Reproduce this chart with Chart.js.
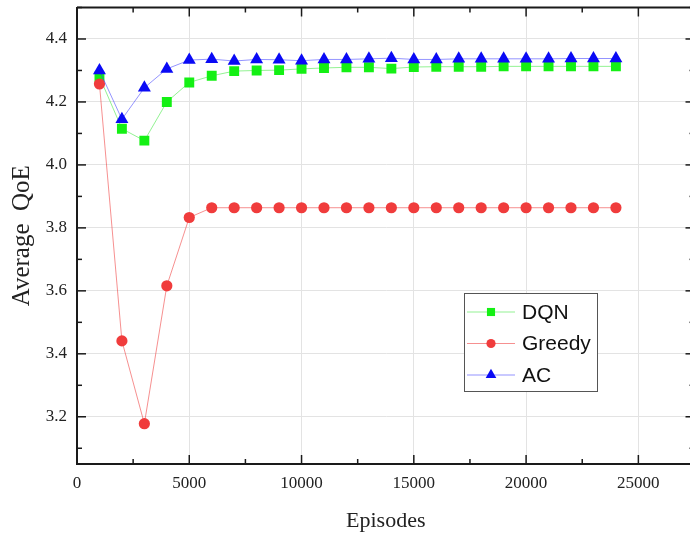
<!DOCTYPE html>
<html>
<head>
<meta charset="utf-8">
<script src="https://cdn.jsdelivr.net/npm/chart.js@4/dist/chart.umd.min.js"></script>
<style>
  html, body { margin: 0; padding: 0; background: #fff; overflow: hidden; }
  #wrap { width: 702px; height: 538px; }
</style>
</head>
<body>
<div id="wrap"><canvas id="qoe-chart" width="702" height="538"></canvas></div>
<script>
var episodes = [1000, 2000, 3000, 4000, 5000, 6000, 7000, 8000, 9000, 10000, 11000, 12000,
                13000, 14000, 15000, 16000, 17000, 18000, 19000, 20000, 21000, 22000, 23000, 24000]
var dqnQoE = [4.280, 4.115, 4.077, 4.200, 4.262, 4.283, 4.298, 4.300, 4.301, 4.305, 4.308, 4.310,
              4.310, 4.306, 4.311, 4.312, 4.312, 4.312, 4.313, 4.313, 4.313, 4.313, 4.313, 4.313]
var greedyQoE = [4.257, 3.441, 3.178, 3.616, 3.833, 3.864, 3.864, 3.864, 3.864, 3.864, 3.864, 3.864,
                 3.864, 3.864, 3.864, 3.864, 3.864, 3.864, 3.864, 3.864, 3.864, 3.864, 3.864, 3.864]
var acQoE = [4.300, 4.145, 4.245, 4.305, 4.333, 4.336, 4.330, 4.335, 4.334, 4.331, 4.335, 4.335,
             4.337, 4.339, 4.335, 4.335, 4.337, 4.337, 4.337, 4.337, 4.337, 4.338, 4.338, 4.338]
var xTickValues = [0, 5000, 10000, 15000, 20000, 25000]
var yTickValues = [3.2, 3.4, 3.6, 3.8, 4.0, 4.2, 4.4]

var toPoints = function(values) {
  return values.map(function(v, i) { return { x: episodes[i], y: v } })
}

var serif = 'Liberation Serif, Times New Roman, serif'

// inward tick marks on all four sides plus the top/right frame lines
var axisFrame = {
  id: 'axisFrame',
  afterDatasetsDraw: function(chart) {
    var ctx = chart.ctx, a = chart.chartArea
    var xs = chart.scales.x, ys = chart.scales.y
    var seg = function(x1, y1, x2, y2) {
      ctx.beginPath(); ctx.moveTo(x1, y1); ctx.lineTo(x2, y2); ctx.stroke()
    }
    ctx.save()
    ctx.strokeStyle = '#1a1a1a'
    ctx.lineWidth = 2
    seg(a.left, a.top, a.right, a.top)
    seg(a.right, a.top, a.right, a.bottom)
    ctx.lineWidth = 1.5
    for (var v = 2500; v < xs.max; v += 2500) {
      var px = xs.getPixelForValue(v)
      var len = v % 5000 === 0 ? 9 : 5
      seg(px, a.bottom, px, a.bottom - len)
      seg(px, a.top, px, a.top + len)
    }
    for (var i = 31; i <= 45; i++) {
      var py = ys.getPixelForValue(i / 10)
      var ylen = i % 2 === 0 ? 9 : 5
      seg(a.left, py, a.left + ylen, py)
      seg(a.right, py, a.right - ylen, py)
    }
    ctx.restore()
  }
}

// boxed legend sitting inside the plot
var boxLegend = {
  id: 'boxLegend',
  afterDraw: function(chart, args, opts) {
    var ctx = chart.ctx
    var left = opts.left, top = opts.top
    ctx.save()
    ctx.fillStyle = '#fff'
    ctx.fillRect(left, top, opts.width, opts.height)
    ctx.strokeStyle = '#555'
    ctx.lineWidth = 1
    ctx.strokeRect(left + 0.5, top + 0.5, opts.width, opts.height)
    chart.data.datasets.forEach(function(ds, i) {
      var cy = top + 19 + i * 31.5
      ctx.strokeStyle = ds.borderColor
      ctx.lineWidth = 1
      ctx.beginPath(); ctx.moveTo(left + 3, cy); ctx.lineTo(left + 51, cy); ctx.stroke()
      ctx.fillStyle = ds.pointBackgroundColor
      Chart.helpers.drawPoint(ctx, {
        pointStyle: ds.pointStyle, radius: ds.pointRadius * 0.82, borderWidth: 0, rotation: 0
      }, left + 27, cy)
      ctx.fillStyle = '#111'
      ctx.font = '21px Liberation Sans, Arial, sans-serif'
      ctx.textBaseline = 'middle'
      ctx.fillText(ds.label, left + 58, cy + 1)
    })
    ctx.restore()
  }
}

new Chart(document.getElementById('qoe-chart'), {
  type: 'line',
  data: {
    datasets: [{
      label: 'DQN',
      data: toPoints(dqnQoE),
      borderColor: 'rgba(40, 230, 40, 0.5)',
      borderWidth: 1,
      pointStyle: 'rect',
      pointRadius: 7,
      pointBackgroundColor: '#14f014',
      pointBorderWidth: 0,
      order: 3
    }, {
      label: 'Greedy',
      data: toPoints(greedyQoE),
      borderColor: 'rgba(240, 70, 70, 0.6)',
      borderWidth: 1,
      pointStyle: 'circle',
      pointRadius: 5.6,
      pointBackgroundColor: '#f03c3c',
      pointBorderWidth: 0,
      order: 2
    }, {
      label: 'AC',
      data: toPoints(acQoE),
      borderColor: 'rgba(60, 60, 255, 0.55)',
      borderWidth: 1,
      pointStyle: 'triangle',
      pointRadius: 7.5,
      pointBackgroundColor: '#0a0af5',
      pointBorderWidth: 0,
      order: 1
    }]
  },
  options: {
    responsive: false,
    animation: false,
    layout: { padding: { top: 7, right: 0, left: 0, bottom: 0 } },
    plugins: {
      legend: { display: false },
      tooltip: { enabled: false },
      boxLegend: { left: 464, top: 293, width: 133, height: 98 }
    },
    scales: {
      x: {
        type: 'linear',
        min: 0,
        max: 27500,
        afterBuildTicks: function(scale) {
          scale.ticks = xTickValues.map(function(v) { return { value: v } })
        },
        afterFit: function(scale) {
          scale.height = 74
          scale.paddingLeft = 0
          scale.paddingRight = 0
        },
        grid: { color: '#e3e3e3', lineWidth: 1, drawTicks: false },
        border: { color: '#1a1a1a', width: 2 },
        ticks: {
          padding: 9,
          color: '#222',
          font: { family: serif, size: 17 },
          callback: function(v) { return String(v) }
        },
        title: {
          display: true,
          text: 'Episodes',
          color: '#222',
          font: { family: serif, size: 22 },
          padding: { top: 0, bottom: 4 }
        }
      },
      y: {
        min: 3.05,
        max: 4.5,
        afterBuildTicks: function(scale) {
          scale.ticks = yTickValues.map(function(v) { return { value: v } })
        },
        afterFit: function(scale) {
          scale.width = 77
          scale.paddingTop = 0
          scale.paddingBottom = 0
        },
        grid: { color: '#e3e3e3', lineWidth: 1, drawTicks: false },
        border: { color: '#1a1a1a', width: 2 },
        ticks: {
          padding: 10,
          color: '#222',
          font: { family: serif, size: 17 },
          callback: function(v) { return v.toFixed(1) }
        },
        title: {
          display: true,
          text: 'Average  QoE',
          color: '#222',
          font: { family: serif, size: 25 },
          padding: { top: 7, bottom: 0 }
        }
      }
    }
  },
  plugins: [axisFrame, boxLegend]
})
</script>
</body>
</html>
